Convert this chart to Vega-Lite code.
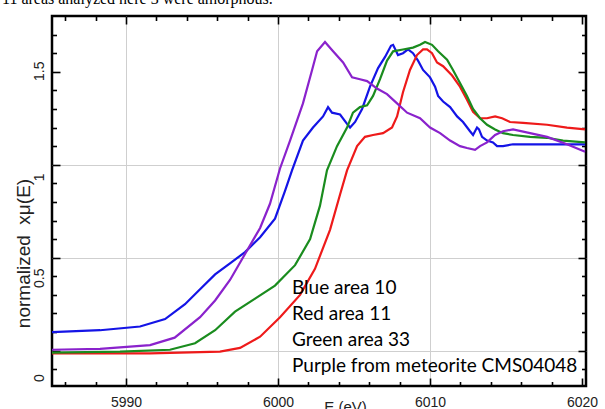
{
  "$schema": "https://vega.github.io/schema/vega-lite/v6.json",
  "width": 534,
  "height": 370,
  "autosize": {"type": "none"},
  "padding": {"left": 52, "top": 16, "right": 19, "bottom": 23},
  "background": "white",
  "title": {"text": "11 areas analyzed here 3 were amorphous.", "font": "Liberation Serif", "fontSize": 16, "fontWeight": "normal", "color": "black", "anchor": "start", "frame": "group", "dx": -50, "dy": 13.5, "baseline": "alphabetic", "offset": 9},
  "config": {"view": {"stroke": "black", "strokeWidth": 2.5}},
  "data": {"values": [
    {"s": "Blue area 10", "E": 5985.13, "mu": 0.10},
    {"s": "Blue area 10", "E": 5988.29, "mu": 0.11},
    {"s": "Blue area 10", "E": 5990.92, "mu": 0.13},
    {"s": "Blue area 10", "E": 5992.57, "mu": 0.17},
    {"s": "Blue area 10", "E": 5993.88, "mu": 0.25},
    {"s": "Blue area 10", "E": 5994.87, "mu": 0.33},
    {"s": "Blue area 10", "E": 5995.86, "mu": 0.41},
    {"s": "Blue area 10", "E": 5996.84, "mu": 0.47},
    {"s": "Blue area 10", "E": 5997.83, "mu": 0.53},
    {"s": "Blue area 10", "E": 5998.82, "mu": 0.61},
    {"s": "Blue area 10", "E": 5999.8, "mu": 0.71},
    {"s": "Blue area 10", "E": 6000.46, "mu": 0.86},
    {"s": "Blue area 10", "E": 6000.92, "mu": 0.97},
    {"s": "Blue area 10", "E": 6001.64, "mu": 1.13},
    {"s": "Blue area 10", "E": 6002.3, "mu": 1.20},
    {"s": "Blue area 10", "E": 6002.96, "mu": 1.26},
    {"s": "Blue area 10", "E": 6003.29, "mu": 1.31},
    {"s": "Blue area 10", "E": 6003.55, "mu": 1.28},
    {"s": "Blue area 10", "E": 6004.08, "mu": 1.27},
    {"s": "Blue area 10", "E": 6004.54, "mu": 1.22},
    {"s": "Blue area 10", "E": 6004.74, "mu": 1.20},
    {"s": "Blue area 10", "E": 6005.07, "mu": 1.23},
    {"s": "Blue area 10", "E": 6005.53, "mu": 1.30},
    {"s": "Blue area 10", "E": 6006.05, "mu": 1.42},
    {"s": "Blue area 10", "E": 6006.58, "mu": 1.52},
    {"s": "Blue area 10", "E": 6007.04, "mu": 1.58},
    {"s": "Blue area 10", "E": 6007.43, "mu": 1.64},
    {"s": "Blue area 10", "E": 6007.57, "mu": 1.645},
    {"s": "Blue area 10", "E": 6007.89, "mu": 1.59},
    {"s": "Blue area 10", "E": 6008.22, "mu": 1.60},
    {"s": "Blue area 10", "E": 6008.55, "mu": 1.62},
    {"s": "Blue area 10", "E": 6008.88, "mu": 1.60},
    {"s": "Blue area 10", "E": 6009.21, "mu": 1.56},
    {"s": "Blue area 10", "E": 6009.54, "mu": 1.51},
    {"s": "Blue area 10", "E": 6010.0, "mu": 1.47},
    {"s": "Blue area 10", "E": 6010.33, "mu": 1.42},
    {"s": "Blue area 10", "E": 6010.53, "mu": 1.37},
    {"s": "Blue area 10", "E": 6010.86, "mu": 1.34},
    {"s": "Blue area 10", "E": 6011.32, "mu": 1.31},
    {"s": "Blue area 10", "E": 6011.78, "mu": 1.26},
    {"s": "Blue area 10", "E": 6012.17, "mu": 1.23},
    {"s": "Blue area 10", "E": 6012.63, "mu": 1.18},
    {"s": "Blue area 10", "E": 6012.83, "mu": 1.16},
    {"s": "Blue area 10", "E": 6013.09, "mu": 1.20},
    {"s": "Blue area 10", "E": 6013.22, "mu": 1.19},
    {"s": "Blue area 10", "E": 6013.42, "mu": 1.15},
    {"s": "Blue area 10", "E": 6013.75, "mu": 1.13},
    {"s": "Blue area 10", "E": 6014.14, "mu": 1.12},
    {"s": "Blue area 10", "E": 6014.41, "mu": 1.10},
    {"s": "Blue area 10", "E": 6014.8, "mu": 1.10},
    {"s": "Blue area 10", "E": 6015.46, "mu": 1.11},
    {"s": "Blue area 10", "E": 6017.7, "mu": 1.11},
    {"s": "Blue area 10", "E": 6020.2, "mu": 1.11},
    {"s": "Red area 11", "E": 5985.13, "mu": -0.015},
    {"s": "Red area 11", "E": 5991.58, "mu": -0.015},
    {"s": "Red area 11", "E": 5996.18, "mu": -0.005},
    {"s": "Red area 11", "E": 5997.5, "mu": 0.015},
    {"s": "Red area 11", "E": 5998.82, "mu": 0.075},
    {"s": "Red area 11", "E": 6000.13, "mu": 0.18},
    {"s": "Red area 11", "E": 6001.45, "mu": 0.30},
    {"s": "Red area 11", "E": 6002.43, "mu": 0.44},
    {"s": "Red area 11", "E": 6003.42, "mu": 0.65},
    {"s": "Red area 11", "E": 6004.08, "mu": 0.84},
    {"s": "Red area 11", "E": 6004.54, "mu": 0.97},
    {"s": "Red area 11", "E": 6005.2, "mu": 1.10},
    {"s": "Red area 11", "E": 6005.72, "mu": 1.15},
    {"s": "Red area 11", "E": 6006.25, "mu": 1.16},
    {"s": "Red area 11", "E": 6006.91, "mu": 1.17},
    {"s": "Red area 11", "E": 6007.5, "mu": 1.20},
    {"s": "Red area 11", "E": 6007.83, "mu": 1.26},
    {"s": "Red area 11", "E": 6008.22, "mu": 1.39},
    {"s": "Red area 11", "E": 6008.68, "mu": 1.51},
    {"s": "Red area 11", "E": 6009.14, "mu": 1.59},
    {"s": "Red area 11", "E": 6009.54, "mu": 1.62},
    {"s": "Red area 11", "E": 6009.8, "mu": 1.62},
    {"s": "Red area 11", "E": 6010.13, "mu": 1.60},
    {"s": "Red area 11", "E": 6010.46, "mu": 1.55},
    {"s": "Red area 11", "E": 6010.86, "mu": 1.53},
    {"s": "Red area 11", "E": 6011.45, "mu": 1.48},
    {"s": "Red area 11", "E": 6011.97, "mu": 1.42},
    {"s": "Red area 11", "E": 6012.43, "mu": 1.35},
    {"s": "Red area 11", "E": 6012.83, "mu": 1.285},
    {"s": "Red area 11", "E": 6013.29, "mu": 1.25},
    {"s": "Red area 11", "E": 6013.75, "mu": 1.25},
    {"s": "Red area 11", "E": 6014.28, "mu": 1.26},
    {"s": "Red area 11", "E": 6014.74, "mu": 1.25},
    {"s": "Red area 11", "E": 6015.26, "mu": 1.23},
    {"s": "Red area 11", "E": 6016.12, "mu": 1.225},
    {"s": "Red area 11", "E": 6017.7, "mu": 1.215},
    {"s": "Red area 11", "E": 6019.01, "mu": 1.20},
    {"s": "Red area 11", "E": 6020.2, "mu": 1.19},
    {"s": "Green area 33", "E": 5985.13, "mu": -0.01},
    {"s": "Green area 33", "E": 5989.6, "mu": -0.005},
    {"s": "Green area 33", "E": 5992.89, "mu": 0.005},
    {"s": "Green area 33", "E": 5994.54, "mu": 0.04},
    {"s": "Green area 33", "E": 5995.86, "mu": 0.11},
    {"s": "Green area 33", "E": 5997.17, "mu": 0.21},
    {"s": "Green area 33", "E": 5998.49, "mu": 0.28},
    {"s": "Green area 33", "E": 5999.8, "mu": 0.35},
    {"s": "Green area 33", "E": 6001.12, "mu": 0.46},
    {"s": "Green area 33", "E": 6002.11, "mu": 0.60},
    {"s": "Green area 33", "E": 6002.76, "mu": 0.78},
    {"s": "Green area 33", "E": 6003.22, "mu": 0.97},
    {"s": "Green area 33", "E": 6003.88, "mu": 1.10},
    {"s": "Green area 33", "E": 6004.54, "mu": 1.20},
    {"s": "Green area 33", "E": 6004.93, "mu": 1.28},
    {"s": "Green area 33", "E": 6005.39, "mu": 1.31},
    {"s": "Green area 33", "E": 6005.86, "mu": 1.32},
    {"s": "Green area 33", "E": 6006.25, "mu": 1.37},
    {"s": "Green area 33", "E": 6006.71, "mu": 1.46},
    {"s": "Green area 33", "E": 6007.17, "mu": 1.56},
    {"s": "Green area 33", "E": 6007.57, "mu": 1.61},
    {"s": "Green area 33", "E": 6008.22, "mu": 1.62},
    {"s": "Green area 33", "E": 6008.88, "mu": 1.63},
    {"s": "Green area 33", "E": 6009.34, "mu": 1.645},
    {"s": "Green area 33", "E": 6009.67, "mu": 1.66},
    {"s": "Green area 33", "E": 6010.13, "mu": 1.645},
    {"s": "Green area 33", "E": 6010.53, "mu": 1.61},
    {"s": "Green area 33", "E": 6011.12, "mu": 1.565},
    {"s": "Green area 33", "E": 6011.51, "mu": 1.51},
    {"s": "Green area 33", "E": 6011.97, "mu": 1.44},
    {"s": "Green area 33", "E": 6012.43, "mu": 1.37},
    {"s": "Green area 33", "E": 6012.83, "mu": 1.30},
    {"s": "Green area 33", "E": 6013.29, "mu": 1.25},
    {"s": "Green area 33", "E": 6013.75, "mu": 1.215},
    {"s": "Green area 33", "E": 6014.28, "mu": 1.19},
    {"s": "Green area 33", "E": 6014.8, "mu": 1.17},
    {"s": "Green area 33", "E": 6015.46, "mu": 1.16},
    {"s": "Green area 33", "E": 6016.58, "mu": 1.15},
    {"s": "Green area 33", "E": 6017.7, "mu": 1.145},
    {"s": "Green area 33", "E": 6018.75, "mu": 1.13},
    {"s": "Green area 33", "E": 6020.2, "mu": 1.12},
    {"s": "Purple from meteorite CMS04048", "E": 5985.13, "mu": 0.005},
    {"s": "Purple from meteorite CMS04048", "E": 5988.29, "mu": 0.01},
    {"s": "Purple from meteorite CMS04048", "E": 5991.58, "mu": 0.03},
    {"s": "Purple from meteorite CMS04048", "E": 5993.2, "mu": 0.07},
    {"s": "Purple from meteorite CMS04048", "E": 5994.87, "mu": 0.18},
    {"s": "Purple from meteorite CMS04048", "E": 5995.86, "mu": 0.27},
    {"s": "Purple from meteorite CMS04048", "E": 5996.84, "mu": 0.38},
    {"s": "Purple from meteorite CMS04048", "E": 5997.83, "mu": 0.52},
    {"s": "Purple from meteorite CMS04048", "E": 5998.82, "mu": 0.66},
    {"s": "Purple from meteorite CMS04048", "E": 5999.47, "mu": 0.79},
    {"s": "Purple from meteorite CMS04048", "E": 6000.13, "mu": 0.98},
    {"s": "Purple from meteorite CMS04048", "E": 6000.79, "mu": 1.13},
    {"s": "Purple from meteorite CMS04048", "E": 6001.64, "mu": 1.33},
    {"s": "Purple from meteorite CMS04048", "E": 6002.24, "mu": 1.51},
    {"s": "Purple from meteorite CMS04048", "E": 6002.57, "mu": 1.61},
    {"s": "Purple from meteorite CMS04048", "E": 6003.09, "mu": 1.66},
    {"s": "Purple from meteorite CMS04048", "E": 6003.62, "mu": 1.61},
    {"s": "Purple from meteorite CMS04048", "E": 6004.28, "mu": 1.55},
    {"s": "Purple from meteorite CMS04048", "E": 6004.87, "mu": 1.47},
    {"s": "Purple from meteorite CMS04048", "E": 6005.39, "mu": 1.46},
    {"s": "Purple from meteorite CMS04048", "E": 6005.86, "mu": 1.45},
    {"s": "Purple from meteorite CMS04048", "E": 6006.51, "mu": 1.41},
    {"s": "Purple from meteorite CMS04048", "E": 6007.17, "mu": 1.38},
    {"s": "Purple from meteorite CMS04048", "E": 6007.83, "mu": 1.33},
    {"s": "Purple from meteorite CMS04048", "E": 6008.49, "mu": 1.28},
    {"s": "Purple from meteorite CMS04048", "E": 6009.34, "mu": 1.25},
    {"s": "Purple from meteorite CMS04048", "E": 6010.0, "mu": 1.20},
    {"s": "Purple from meteorite CMS04048", "E": 6010.66, "mu": 1.17},
    {"s": "Purple from meteorite CMS04048", "E": 6011.32, "mu": 1.13},
    {"s": "Purple from meteorite CMS04048", "E": 6011.97, "mu": 1.10},
    {"s": "Purple from meteorite CMS04048", "E": 6012.43, "mu": 1.09},
    {"s": "Purple from meteorite CMS04048", "E": 6012.96, "mu": 1.08},
    {"s": "Purple from meteorite CMS04048", "E": 6013.29, "mu": 1.10},
    {"s": "Purple from meteorite CMS04048", "E": 6013.75, "mu": 1.12},
    {"s": "Purple from meteorite CMS04048", "E": 6014.28, "mu": 1.16},
    {"s": "Purple from meteorite CMS04048", "E": 6014.8, "mu": 1.18},
    {"s": "Purple from meteorite CMS04048", "E": 6015.46, "mu": 1.19},
    {"s": "Purple from meteorite CMS04048", "E": 6016.58, "mu": 1.17},
    {"s": "Purple from meteorite CMS04048", "E": 6017.7, "mu": 1.15},
    {"s": "Purple from meteorite CMS04048", "E": 6019.01, "mu": 1.11},
    {"s": "Purple from meteorite CMS04048", "E": 6020.2, "mu": 1.07}
  ]},
  "layer": [
    {
      "mark": {"type": "line", "strokeWidth": 2.2, "clip": true},
      "encoding": {
        "x": {"field": "E", "type": "quantitative", "scale": {"domain": [5985.13, 6020.26], "nice": false, "zero": false},
          "axis": {"orient": "bottom", "title": "E  (eV)", "titleFont": "Liberation Sans", "titleFontSize": 15, "titleFontWeight": "normal", "titleColor": "#222", "titleX": 293, "titleY": 13, "titleBaseline": "top", "titleAlign": "center",
            "values": [5986, 5988, 5990, 5992, 5994, 5996, 5998, 6000, 6002, 6004, 6006, 6008, 6010, 6012, 6014, 6016, 6018, 6020],
            "domain": false, "ticks": true, "tickColor": "black", "tickWidth": 1.6, "tickSize": -8,
            "tickDash": {"expr": "datum.value % 10 == 0 ? [20, 0] : [4.5, 30]"},
            "labelExpr": "datum.value % 10 == 0 ? format(datum.value, 'd') : ''",
            "labelFont": "Liberation Sans", "labelFontSize": 14, "labelColor": "#222", "labelPadding": 17, "labelOverlap": false, "labelFlush": false, "labelBound": false,
            "grid": true, "gridColor": "#cfcfcf", "gridWidth": 1,
            "gridOpacity": {"expr": "datum.value % 10 == 0 && datum.value < 6015 ? 1 : 0"}}},
        "y": {"field": "mu", "type": "quantitative", "scale": {"domain": [-0.19, 1.8], "nice": false, "zero": false},
          "axis": {"orient": "left", "title": "normalized\u00a0 x\u03bc(E)", "titleFont": "Liberation Sans", "titleFontSize": 19, "titleFontWeight": "normal", "titleColor": "#222", "titleX": -29, "titleY": 237, "titleAngle": -90, "titleAlign": "center", "titleBaseline": "middle",
            "values": [-0.1, 0, 0.1, 0.2, 0.3, 0.4, 0.5, 0.6, 0.7, 0.8, 0.9, 1, 1.1, 1.2, 1.3, 1.4, 1.5, 1.6, 1.7],
            "domain": false, "ticks": true, "tickColor": "black", "tickWidth": 1.6, "tickSize": -8,
            "tickDash": {"expr": "abs(datum.value*2 - round(datum.value*2)) < 0.001 ? [20, 0] : [4.5, 30]"},
            "labelExpr": "abs(datum.value*2 - round(datum.value*2)) < 0.001 ? format(datum.value, '~g') : ''",
            "labelOffset": {"expr": "datum.value == 0 ? 27 : datum.value == 0.5 ? 20 : datum.value == 1 ? 12 : -1"},
            "labelAngle": -90, "labelAlign": "center", "labelBaseline": "bottom",
            "labelFont": "Liberation Sans", "labelFontSize": 14, "labelColor": "#222", "labelPadding": 14, "labelOverlap": false, "labelFlush": false, "labelBound": false,
            "grid": true, "gridColor": "#cfcfcf", "gridWidth": 1,
            "gridOpacity": {"expr": "abs(datum.value*2 - round(datum.value*2)) < 0.001 && datum.value < 1.2 ? 1 : 0"}}},
        "color": {"field": "s", "type": "nominal",
          "scale": {"domain": ["Blue area 10", "Red area 11", "Green area 33", "Purple from meteorite CMS04048"], "range": ["#1414e6", "#ee1a1a", "#1a8c1e", "#8a22cc"]},
          "legend": {"orient": "none", "legendX": 221, "legendY": 262, "title": null, "symbolSize": 0, "symbolOpacity": 0, "symbolStrokeWidth": 0, "labelFont": "Lato", "labelFontSize": 19, "labelColor": "black", "labelOffset": 0, "labelLimit": 500, "rowPadding": 6, "padding": 0}}
      }
    },
    {
      "mark": {"type": "line", "opacity": 0},
      "encoding": {
        "x": {"field": "E", "type": "quantitative",
          "axis": {"orient": "top", "title": null, "labels": false, "domain": false, "grid": false, "ticks": true, "tickColor": "black", "tickWidth": 1.6, "tickSize": -8, "minExtent": 0, "maxExtent": 0,
            "values": [5986, 5988, 5990, 5992, 5994, 5996, 5998, 6000, 6002, 6004, 6006, 6008, 6010, 6012, 6014, 6016, 6018, 6020],
            "tickDash": {"expr": "datum.value % 10 == 0 ? [20, 0] : [4.5, 30]"}}},
        "y": {"field": "mu", "type": "quantitative",
          "axis": {"orient": "right", "title": null, "labels": false, "domain": false, "grid": false, "ticks": true, "tickColor": "black", "tickWidth": 1.6, "tickSize": -8,
            "values": [-0.1, 0, 0.1, 0.2, 0.3, 0.4, 0.5, 0.6, 0.7, 0.8, 0.9, 1, 1.1, 1.2, 1.3, 1.4, 1.5, 1.6, 1.7],
            "tickDash": {"expr": "abs(datum.value*2 - round(datum.value*2)) < 0.001 ? [20, 0] : [4.5, 30]"}}}
      }
    }
  ],
  "resolve": {"axis": {"x": "independent", "y": "independent"}}
}
